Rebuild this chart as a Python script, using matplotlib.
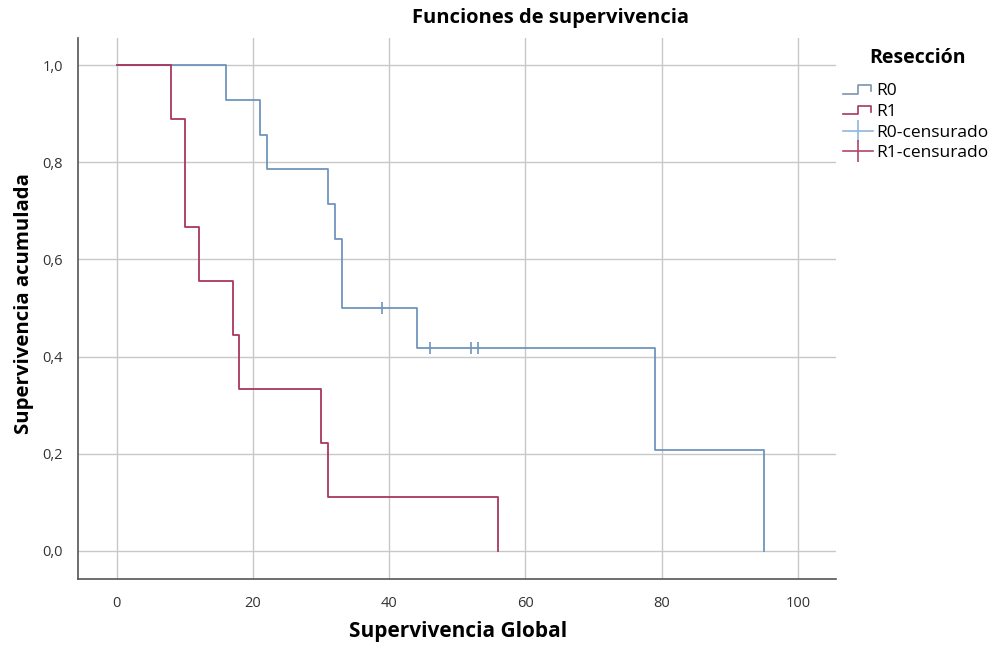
import matplotlib
matplotlib.use("Agg")
import matplotlib.pyplot as plt
from matplotlib.lines import Line2D
from matplotlib.legend_handler import HandlerBase

plt.rcParams['font.family'] = ['Open Sans', 'DejaVu Sans']

# Data (Kaplan-Meier step functions)
r0_times = [0, 16, 21, 22, 31, 32, 33, 44, 79, 95]
r0_surv = [1.0, 0.929, 0.857, 0.786, 0.714, 0.643, 0.5, 0.417, 0.208, 0.0]
r0_cens_t = [39, 46, 52, 53]
r0_cens_s = [0.5, 0.417, 0.417, 0.417]

r1_times = [0, 8, 10, 12, 17, 18, 30, 31, 56]
r1_surv = [1.0, 0.889, 0.667, 0.556, 0.444, 0.333, 0.222, 0.111, 0.0]

xticks = [0, 20, 40, 60, 80, 100]
yticks = [0.0, 0.2, 0.4, 0.6, 0.8, 1.0]
ytick_labels = ['0,0', '0,2', '0,4', '0,6', '0,8', '1,0']

c_r0 = '#6f95bd'
c_r1 = '#a8375f'
c_r0c = '#8fb6dc'
c_r1c = '#b0456d'
grid_c = '#c8c8c8'

fig = plt.figure(figsize=(9.98, 6.5), dpi=100)
ax = fig.add_axes([0.0782, 0.1092, 0.7595, 0.8323])

ax.step(r0_times, r0_surv, where='post', color=c_r0, lw=1.3, zorder=3)
ax.step(r1_times, r1_surv, where='post', color=c_r1, lw=1.3, zorder=3)
ax.plot(r0_cens_t, r0_cens_s, linestyle='none', marker='|', markersize=9,
        markeredgewidth=1.2, color=c_r0, zorder=4)

ax.set_xlim(-5.7, 105.6)
ax.set_ylim(-0.058, 1.056)
ax.set_xticks(xticks)
ax.set_yticks(yticks)
ax.set_yticklabels(ytick_labels)
ax.grid(True, color=grid_c, lw=1.0, zorder=0)
ax.tick_params(length=0, labelsize=10.5, colors='#333333')
ax.tick_params(axis='x', pad=12)
ax.tick_params(axis='y', pad=11)
for s in ['top', 'right']:
    ax.spines[s].set_visible(False)
for s in ['left', 'bottom']:
    ax.spines[s].set_color('#555555')
    ax.spines[s].set_linewidth(1.2)

ax.set_xlabel('Supervivencia Global', fontsize=15, fontweight='bold')
ax.set_ylabel('Supervivencia acumulada', fontsize=14.7, fontweight='bold')
ax.xaxis.set_label_coords(0.501, -0.077)
ax.yaxis.set_label_coords(-0.058, 0.51)
fig.text(0.552, 0.972, 'Funciones de supervivencia', ha='center', va='center',
         fontsize=14.5, fontweight='bold')


class StepHandler(HandlerBase):
    def create_artists(self, legend, orig_handle, xdescent, ydescent, width,
                       height, fontsize, trans):
        x0 = -xdescent
        y0 = -ydescent
        xs = [x0, x0 + width * 0.5, x0 + width * 0.5, x0 + width * 0.95, x0 + width * 0.95]
        ys = [y0 + height * 0.15, y0 + height * 0.15, y0 + height * 0.85,
              y0 + height * 0.85, y0 + height * 0.35]
        l = Line2D(xs, ys, color=orig_handle.get_color(), lw=1.2, transform=trans)
        return [l]


h_r0 = Line2D([0], [0], color='#7d93ac')
h_r1 = Line2D([0], [0], color=c_r1)
h_r0c = Line2D([0], [0], color=c_r0c, marker='|', markersize=16, markeredgewidth=1.2, lw=1.2)
h_r1c = Line2D([0], [0], color=c_r1c, marker='|', markersize=16, markeredgewidth=1.2, lw=1.2)

fig.text(0.919, 0.911, 'Resección', ha='center', va='center',
         fontsize=14, fontweight='bold')
leg = fig.legend([h_r0, h_r1, h_r0c, h_r1c],
                 ['R0', 'R1', 'R0-censurado', 'R1-censurado'],
                 handler_map={h_r0: StepHandler(), h_r1: StepHandler()},
                 loc='upper left', bbox_to_anchor=(0.845, 0.872),
                 frameon=False, fontsize=12.5,
                 handlelength=1.7, handletextpad=0.2, labelspacing=0.26,
                 borderaxespad=0, borderpad=0, numpoints=1)

fig.savefig('out.png', dpi=100)
